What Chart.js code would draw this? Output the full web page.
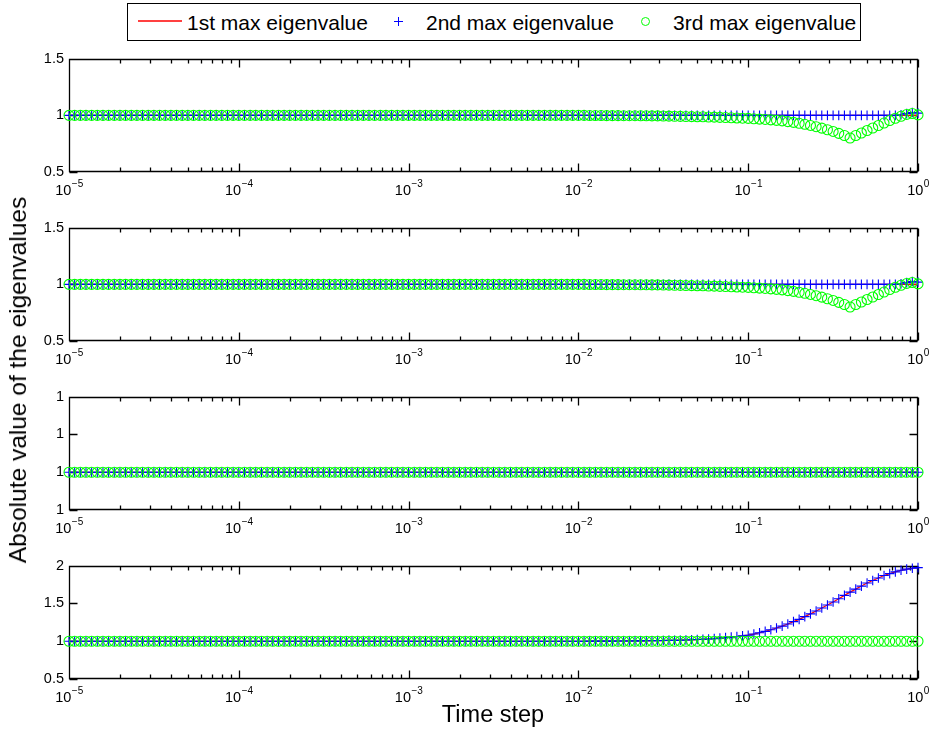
<!DOCTYPE html>
<html>
<head>
<meta charset="utf-8">
<script src="https://cdn.jsdelivr.net/npm/chart.js@4.4.0/dist/chart.umd.min.js"></script>
<style>
  body { margin: 0; background: #fff; font-family: "Liberation Sans", Arial, sans-serif; color: #000; }
  #wrap { position: relative; width: 932px; height: 732px; overflow: hidden; }
  canvas { position: absolute; left: 0; }
  #legend { position: absolute; left: 127px; top: 3px; width: 734px; height: 38px; box-sizing: border-box;
            border: 1px solid #000; background: #fff; }
  #legend .txt { position: absolute; top: 8px; font-size: 21px; line-height: 21px; white-space: nowrap; }
  #legend .ln { position: absolute; height: 2px; background: #ff4040; }
  #legend .pv, #legend .ph { position: absolute; background: #0000ff; }
  #legend .ring { position: absolute; width: 9px; height: 9px; box-sizing: border-box; border: 1px solid #00ff00; border-radius: 50%; }
  .title { position: absolute; font-size: 23.5px; line-height: 24px; white-space: nowrap; }
</style>
</head>
<body>
<div id="wrap">
  <div id="legend">
    <div class="ln" style="left:10px; top:16px; width:44px;"></div>
    <div class="txt" style="left:59px;">1st max eigenvalue</div>
    <div class="pv" style="left:270px; top:13px; width:1px; height:9px;"></div>
    <div class="ph" style="left:266px; top:17px; width:9px; height:1px;"></div>
    <div class="txt" style="left:298px;">2nd max eigenvalue</div>
    <div class="ring" style="left:513px; top:13px;"></div>
    <div class="txt" style="left:545px;">3rd max eigenvalue</div>
  </div>
  <canvas id="p1" width="932" height="157" style="top:45px"></canvas>
  <canvas id="p2" width="932" height="157" style="top:214px"></canvas>
  <canvas id="p3" width="932" height="157" style="top:383px"></canvas>
  <canvas id="p4" width="932" height="157" style="top:552px"></canvas>
  <div class="title" style="left:18px; top:380px; font-size:24.5px; transform: translate(-50%, -50%) rotate(-90deg);">Absolute value of the eigenvalues</div>
  <div class="title" style="left:493px; top:702px; transform: translateX(-50%);">Time step</div>
</div>
<script>
// time steps: 30 per decade from 1e-5 to 1
const mantissas = [1, 1.0798, 1.1659, 1.2589, 1.3594, 1.4678, 1.5849, 1.7113, 1.8478, 1.9953,
  2.1544, 2.3263, 2.5119, 2.7123, 2.9286, 3.1623, 3.4145, 3.6869, 3.9811, 4.2987,
  4.6416, 5.0119, 5.4117, 5.8434, 6.3096, 6.8129, 7.3564, 7.9433, 8.5770, 9.2611];
const decades = [-5, -4, -3, -2, -1];
const timeSteps = decades.flatMap(d => mantissas.map(m => m * Math.pow(10, d))).concat([1]);

// x axis ticks
const majorTicks = [1e-5, 1e-4, 1e-3, 1e-2, 1e-1, 1];
const majorExps = ['\u22125', '\u22124', '\u22123', '\u22122', '\u22121', '0'];
const minorDigits = [2, 3, 4, 5, 6, 7, 8, 9];

// eigenvalue magnitudes; earlier points all sit at 1, tails start at the listed time step index
// 3rd eigenvalue in panels 1 & 2, from index 90 (t = 1e-2) to the end
const thirdDipTail = [
  1.000, 1.000, 0.999, 0.999, 0.999, 0.998, 0.998, 0.998, 0.997, 0.997,
  0.997, 0.996, 0.996, 0.995, 0.995, 0.994, 0.993, 0.992, 0.991, 0.990,
  0.989, 0.988, 0.987, 0.985, 0.984, 0.982, 0.981, 0.979, 0.977, 0.975,
  0.973, 0.970, 0.967, 0.964, 0.960, 0.956,
  0.951, 0.945, 0.938, 0.930, 0.921, 0.911, 0.900, 0.887, 0.873, 0.858, 0.841, 0.822, 0.800,
  0.822, 0.844, 0.866, 0.888, 0.910, 0.932, 0.954, 0.974, 0.992, 1.008, 1.016, 1.004
];
// 2nd eigenvalue in panels 1 & 2, last four points
const secondEndTail = [1.005, 1.015, 1.025, 1.020];
// 1st and 2nd eigenvalue in panel 4, from index 90 to the end
const riseTail = [
  1.000, 1.000, 1.001, 1.001, 1.001, 1.002, 1.002, 1.003, 1.003, 1.004,
  1.005, 1.005, 1.006, 1.007, 1.008, 1.009, 1.011, 1.012, 1.014, 1.016,
  1.019, 1.022, 1.026, 1.030, 1.035, 1.041, 1.048, 1.055, 1.063, 1.071,
  1.080, 1.095, 1.112, 1.130, 1.152, 1.175, 1.200, 1.229, 1.259, 1.290,
  1.326, 1.362, 1.400, 1.440, 1.480, 1.520, 1.563, 1.607, 1.650, 1.690,
  1.730, 1.770, 1.805, 1.838, 1.870, 1.895, 1.918, 1.940, 1.954, 1.966, 1.975
];

// y ticks per panel
const yTicksA = [0.5, 1, 1.5];
const yLabelsA = ['0.5', '1', '1.5'];
const yTicksC = [0.999, 1, 1.001, 1.002];
const yLabelsC = ['1', '1', '1', '1'];
const yTicksD = [0.5, 1, 1.5, 2];
const yLabelsD = ['0.5', '1', '1.5', '2'];

function withOnes(tail) {
  const head = new Array(timeSteps.length - tail.length).fill(1);
  return head.concat(tail);
}
function pts(vals) {
  return timeSteps.map((t, i) => ({ x: t, y: vals[i] }));
}

Chart.defaults.font.family = '"Liberation Sans", Arial, sans-serif';
Chart.defaults.color = '#000';

const axesBox = {
  id: 'axesBox',
  beforeDatasetsDraw(chart) {
    const { ctx, chartArea: a, scales: { x, y } } = chart;
    const L = Math.round(a.left) + 0.5, R = Math.round(a.right) - 0.5;
    const T = Math.round(a.top) + 0.5, B = Math.round(a.bottom) - 0.5;
    ctx.save();
    ctx.strokeStyle = '#000';
    ctx.lineWidth = 1.3;
    ctx.beginPath();
    ctx.rect(L, T, R - L, B - T);
    // x ticks, inward at top and bottom
    const tick = (v, len) => {
      const px = Math.round(x.getPixelForValue(v)) + 0.5;
      ctx.moveTo(px, B); ctx.lineTo(px, B - len);
      ctx.moveTo(px, T); ctx.lineTo(px, T + len);
    };
    majorTicks.forEach(v => tick(v, 8));
    majorTicks.slice(0, -1).forEach(v => minorDigits.forEach(d => tick(v * d, 4)));
    // y ticks, inward at left and right
    y.ticks.forEach(t => {
      const py = Math.round(y.getPixelForValue(t.value)) + 0.5;
      ctx.moveTo(L, py); ctx.lineTo(L + 8, py);
      ctx.moveTo(R, py); ctx.lineTo(R - 8, py);
    });
    ctx.stroke();
    ctx.restore();
  },
  afterDraw(chart) {
    const { ctx, chartArea: a, scales: { x } } = chart;
    ctx.save();
    ctx.fillStyle = '#000';
    ctx.textBaseline = 'alphabetic';
    ctx.textAlign = 'left';
    majorTicks.forEach((v, i) => {
      const px = x.getPixelForValue(v);
      ctx.font = '14.5px "Liberation Sans", Arial, sans-serif';
      const wBase = ctx.measureText('10').width;
      ctx.font = '10px "Liberation Sans", Arial, sans-serif';
      const wExp = ctx.measureText(majorExps[i]).width;
      const x0 = px - (wBase + wExp) / 2;
      ctx.font = '14.5px "Liberation Sans", Arial, sans-serif';
      ctx.fillText('10', x0, a.bottom + 23);
      ctx.font = '10px "Liberation Sans", Arial, sans-serif';
      ctx.fillText(majorExps[i], x0 + wBase + 0.5, a.bottom + 15);
    });
    ctx.restore();
  }
};

function makePanel(id, first, second, third, yMin, yMax, yTicks, yLabels) {
  return new Chart(document.getElementById(id), {
    type: 'line',
    data: {
      datasets: [
        { label: '1st max eigenvalue', data: pts(first), borderColor: '#ff0000', borderWidth: 1.2,
          pointRadius: 0, showLine: true, fill: false, clip: false, order: 2 },
        { label: '2nd max eigenvalue', data: pts(second), borderColor: '#0000ff', showLine: false,
          pointStyle: 'cross', pointRadius: 4.8, pointBorderWidth: 1.1, pointBorderColor: '#0000ff', clip: false, order: 1 },
        { label: '3rd max eigenvalue', data: pts(third), borderColor: '#00ff00', showLine: false,
          pointStyle: 'circle', pointRadius: 5, pointBorderWidth: 1.1, pointBorderColor: '#00ff00',
          pointBackgroundColor: 'rgba(0,0,0,0)', clip: false, order: 0 }
      ]
    },
    options: {
      responsive: false,
      animation: false,
      layout: { padding: { left: 0, right: 14, top: 12, bottom: 30 } },
      plugins: { legend: { display: false }, tooltip: { enabled: false } },
      events: [],
      scales: {
        x: {
          type: 'logarithmic', min: 1e-5, max: 1,
          grid: { display: false }, border: { display: false },
          ticks: { display: false },
          afterFit: s => { s.height = 0; }
        },
        y: {
          min: yMin, max: yMax,
          grid: { display: false, drawTicks: false }, border: { display: false },
          afterBuildTicks: s => { s.ticks = yTicks.map(v => ({ value: v })); },
          ticks: { padding: 5, font: { size: 14.5 }, color: '#000',
                   callback: (v, i) => yLabels[i] },
          afterFit: s => { s.width = 69; }
        }
      }
    },
    plugins: [axesBox]
  });
}

const ones = withOnes([]);
makePanel('p1', ones, withOnes(secondEndTail), withOnes(thirdDipTail), 0.5, 1.5, yTicksA, yLabelsA);
makePanel('p2', ones, withOnes(secondEndTail), withOnes(thirdDipTail), 0.5, 1.5, yTicksA, yLabelsA);
makePanel('p3', ones, ones, ones, 0.999, 1.002, yTicksC, yLabelsC);
makePanel('p4', withOnes(riseTail), withOnes(riseTail), ones, 0.5, 2, yTicksD, yLabelsD);
</script>
</body>
</html>
